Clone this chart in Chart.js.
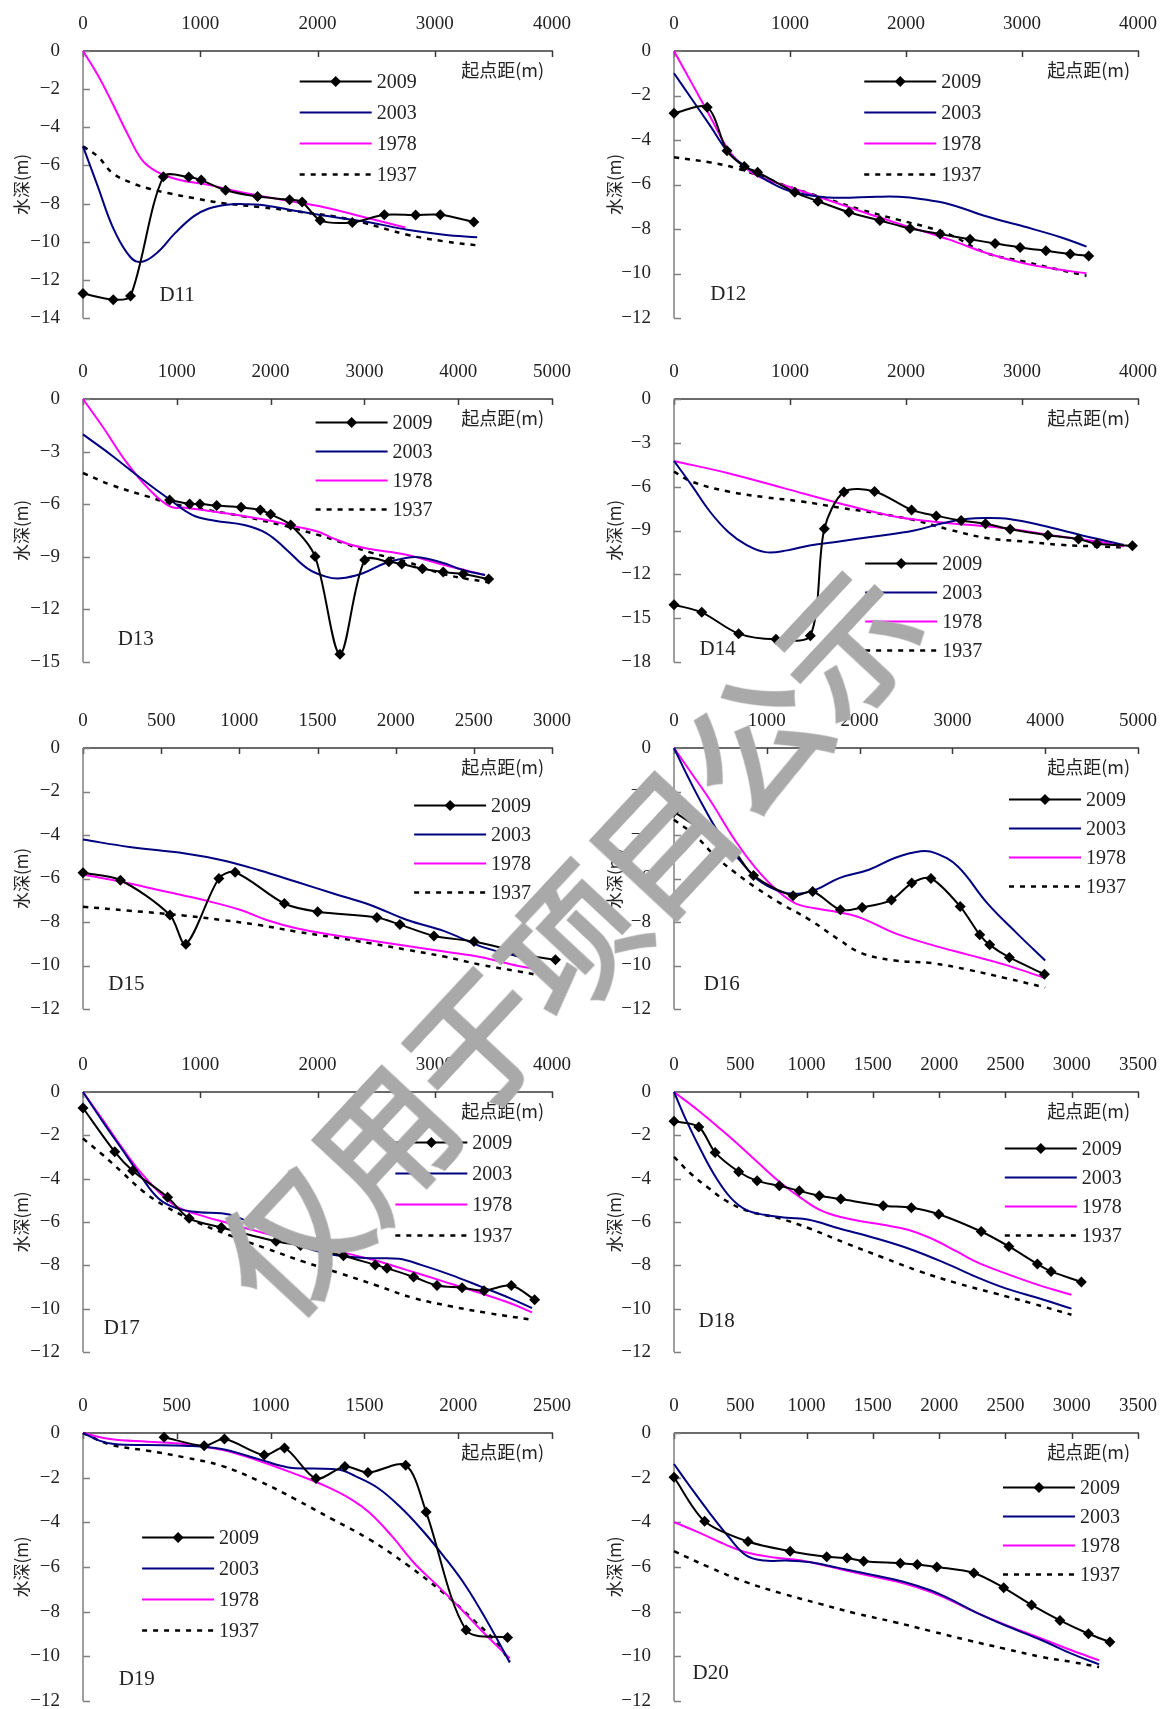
<!DOCTYPE html>
<html>
<head>
<meta charset="utf-8">
<script src="https://cdn.jsdelivr.net/npm/chart.js@4.4.0/dist/chart.umd.min.js"></script>
<style>
  body { margin: 0; background: #fff; width: 1160px; height: 1709px; overflow: hidden; position: relative; }
  canvas { position: absolute; }
  #wm {
    position: absolute; left: 565px; top: 938px; z-index: 10;
    transform: translate(-50%, -50%) rotate(-47deg);
    font-family: "Noto Sans CJK SC", sans-serif; font-weight: 400; font-size: 136px;
    color: #a9a9a9; -webkit-text-stroke: 4px #a9a9a9; white-space: nowrap; line-height: 1;
  }
</style>
</head>
<body>
<div id="wm">仅用于项目公示</div>
<script>
'use strict';

// series are [起点距 m, 水深 m]
const seriesNames = ['2009', '2003', '1978', '1937'];

const D11_2009 = [[0,-12.72],[258,-13.04],[405,-12.85],[685,-6.6],[902,-6.61],[1008,-6.77],[1216,-7.3],[1489,-7.63],[1762,-7.8],[1869,-7.92],[2023,-8.88],[2297,-8.99],[2570,-8.59],[2837,-8.6],[3047,-8.59],[3333,-8.97]];
const D11_2003 = [[0,-5.0],[126,-7.1],[251,-9.2],[377,-10.6],[478,-11.07],[628,-10.6],[785,-9.55],[943,-8.67],[1068,-8.27],[1225,-8.06],[1382,-8.03],[1508,-8.06],[1759,-8.32],[2011,-8.59],[2293,-8.85],[2451,-8.99],[2765,-9.37],[3079,-9.63],[3362,-9.77]];
const D11_1978 = [[0,0],[126,-1.26],[251,-2.74],[377,-4.31],[503,-5.71],[628,-6.32],[817,-6.75],[1068,-7.02],[1382,-7.45],[1697,-7.8],[2011,-8.13],[2325,-8.6],[2749,-9.25]];
const D11_1937 = [[0,-5.0],[126,-5.53],[251,-6.4],[408,-6.9],[566,-7.22],[723,-7.45],[943,-7.71],[1194,-7.98],[1508,-8.18],[1822,-8.41],[2136,-8.67],[2388,-9.0],[2765,-9.63],[3079,-9.98],[3362,-10.19]];

const D12_2009 = [[0,-2.8],[286,-2.53],[457,-4.48],[606,-5.19],[721,-5.45],[1041,-6.35],[1241,-6.75],[1508,-7.25],[1775,-7.62],[2035,-7.98],[2295,-8.23],[2552,-8.46],[2768,-8.65],[2984,-8.83],[3206,-8.98],[3416,-9.12],[3575,-9.21]];
const D12_2003 = [[0,-1.0],[159,-2.2],[317,-3.4],[476,-4.6],[635,-5.25],[794,-5.8],[984,-6.27],[1238,-6.54],[1429,-6.6],[1746,-6.55],[1937,-6.55],[2127,-6.65],[2381,-6.9],[2698,-7.44],[3016,-7.89],[3333,-8.37],[3556,-8.79]];
const D12_1978 = [[0,0],[159,-1.5],[317,-3.0],[476,-4.5],[603,-5.19],[730,-5.64],[984,-6.09],[1238,-6.54],[1492,-6.99],[1746,-7.44],[2063,-7.96],[2381,-8.49],[2698,-9.09],[3016,-9.54],[3302,-9.81],[3556,-9.99]];
const D12_1937 = [[0,-4.78],[317,-5.01],[540,-5.27],[794,-5.72],[984,-6.09],[1302,-6.62],[1619,-7.14],[1937,-7.59],[2190,-7.93],[2381,-8.26],[2698,-9.09],[3016,-9.46],[3302,-9.81],[3556,-10.1]];

const D13_2009 = [[923,-5.76],[1137,-5.99],[1247,-5.99],[1425,-6.08],[1685,-6.18],[1890,-6.33],[2000,-6.58],[2214,-7.19],[2474,-8.99],[2739,-14.56],[3003,-9.18],[3260,-9.28],[3398,-9.41],[3619,-9.68],[3840,-9.87],[4053,-9.98],[4325,-10.27]];
const D13_2003 = [[0,-2.02],[300,-3.19],[616,-4.52],[931,-5.76],[1168,-6.62],[1405,-6.94],[1720,-7.19],[1957,-7.66],[2155,-8.52],[2391,-9.66],[2589,-10.13],[2747,-10.23],[2983,-9.94],[3220,-9.37],[3457,-9.05],[3615,-9.05],[3852,-9.37],[4049,-9.75],[4286,-10.04]];
const D13_1978 = [[0,0],[221,-1.67],[458,-3.57],[695,-5.1],[931,-6.14],[1089,-6.2],[1326,-6.37],[1642,-6.62],[1957,-6.9],[2273,-7.28],[2510,-7.57],[2668,-7.95],[2865,-8.33],[3062,-8.56],[3457,-8.9],[3852,-9.47],[4286,-10.04]];
const D13_1937 = [[0,-4.22],[300,-4.9],[695,-5.57],[931,-5.95],[1326,-6.33],[1720,-6.71],[2115,-7.19],[2510,-7.76],[2786,-8.23],[3062,-8.75],[3457,-9.3],[3852,-10.0],[4325,-10.46]];

const D14_2009 = [[0,-14.08],[239,-14.6],[557,-16.06],[879,-16.45],[1175,-16.2],[1296,-8.88],[1465,-6.36],[1729,-6.33],[2048,-7.59],[2261,-8.0],[2475,-8.31],[2685,-8.54],[2898,-8.91],[3223,-9.32],[3487,-9.59],[3646,-9.91],[3952,-10.05]];
const D14_2003 = [[0,-4.24],[150,-5.88],[309,-7.7],[468,-9.1],[627,-10.0],[787,-10.48],[978,-10.36],[1169,-10.02],[1424,-9.75],[1742,-9.39],[2061,-9.02],[2315,-8.5],[2538,-8.2],[2697,-8.15],[2889,-8.22],[3175,-8.66],[3494,-9.29],[3876,-9.98]];
const D14_1978 = [[0,-4.24],[468,-5.08],[946,-6.1],[1424,-7.13],[1901,-8.04],[2220,-8.38],[2538,-8.61],[2857,-8.84],[3334,-9.41],[3653,-9.75],[3876,-10.09]];
const D14_1937 = [[0,-4.97],[150,-5.65],[468,-6.33],[787,-6.72],[1105,-7.02],[1424,-7.43],[1742,-7.81],[2061,-8.27],[2379,-8.95],[2697,-9.52],[3016,-9.75],[3334,-9.98],[3653,-10.09],[3876,-10.16]];

const D15_2009 = [[0,-5.74],[239,-6.08],[556,-7.68],[658,-9.02],[869,-6.0],[973,-5.71],[1288,-7.15],[1501,-7.53],[1880,-7.79],[2027,-8.12],[2245,-8.64],[2501,-8.9],[2768,-9.36],[2804,-9.48],[3022,-9.74]];
const D15_2003 = [[0,-4.21],[298,-4.55],[654,-4.85],[890,-5.16],[1127,-5.62],[1364,-6.15],[1601,-6.69],[1838,-7.22],[2074,-7.91],[2311,-8.42],[2548,-9.13],[2785,-9.59],[2927,-9.89]];
const D15_1978 = [[0,-5.82],[298,-6.23],[535,-6.61],[772,-6.99],[1009,-7.45],[1175,-7.91],[1364,-8.29],[1601,-8.6],[1838,-8.85],[2074,-9.1],[2311,-9.36],[2548,-9.62],[2785,-10.02],[2939,-10.2]];
const D15_1937 = [[0,-7.3],[298,-7.48],[654,-7.71],[890,-7.91],[1127,-8.14],[1364,-8.44],[1601,-8.7],[1838,-8.98],[2074,-9.28],[2311,-9.59],[2548,-9.97],[2785,-10.27],[2951,-10.5]];

const D16_2009 = [[0,-2.94],[538,-4.4],[645,-4.71],[857,-5.86],[1283,-6.79],[1494,-6.6],[1793,-7.44],[2028,-7.33],[2343,-6.99],[2562,-6.21],[2769,-6.0],[3084,-7.29],[3295,-8.59],[3402,-9.05],[3614,-9.63],[3992,-10.4]];
const D16_2003 = [[0,0],[147,-1.3],[307,-2.61],[506,-4.06],[705,-5.14],[904,-6.06],[1143,-6.6],[1343,-6.7],[1542,-6.49],[1781,-5.98],[2100,-5.6],[2378,-5.06],[2657,-4.75],[2817,-4.83],[3056,-5.44],[3375,-7.13],[3693,-8.51],[4000,-9.77]];
const D16_1978 = [[0,0],[187,-1.15],[386,-2.38],[665,-4.29],[865,-5.44],[1104,-6.52],[1303,-7.13],[1502,-7.36],[1781,-7.56],[2020,-7.82],[2378,-8.51],[2777,-9.05],[3175,-9.51],[3574,-9.97],[4000,-10.58]];
const D16_1937 = [[0,-3.3],[227,-4.02],[446,-4.98],[665,-5.75],[865,-6.37],[1143,-7.13],[1462,-7.9],[1781,-8.82],[2020,-9.43],[2378,-9.77],[2777,-9.89],[3175,-10.2],[3574,-10.58],[4000,-11.01]];

const D17_2009 = [[0,-0.74],[271,-2.76],[423,-3.63],[722,-4.86],[905,-5.83],[1180,-6.25],[1647,-6.89],[1855,-7.09],[2221,-7.56],[2492,-7.98],[2593,-8.13],[2820,-8.54],[3019,-8.93],[3233,-9.03],[3420,-9.17],[3653,-8.93],[3852,-9.59]];
const D17_2003 = [[0,0],[170,-1.38],[328,-2.61],[486,-3.83],[644,-4.91],[801,-5.37],[991,-5.55],[1180,-5.6],[1306,-5.75],[1495,-6.21],[1685,-6.67],[1874,-7.13],[2063,-7.44],[2252,-7.59],[2442,-7.67],[2694,-7.7],[2883,-7.98],[3136,-8.44],[3388,-8.97],[3640,-9.51],[3830,-9.97]];
const D17_1978 = [[0,0],[170,-1.3],[328,-2.53],[486,-3.68],[644,-4.6],[801,-5.29],[991,-5.67],[1243,-6.06],[1495,-6.44],[1811,-6.87],[2126,-7.29],[2442,-7.7],[2757,-8.21],[3073,-8.74],[3388,-9.28],[3640,-9.74],[3830,-10.17]];
const D17_1937 = [[0,-2.15],[170,-2.91],[328,-3.68],[517,-4.6],[707,-5.29],[959,-5.98],[1243,-6.6],[1558,-7.21],[1874,-7.82],[2189,-8.36],[2505,-8.93],[2820,-9.51],[3136,-9.89],[3451,-10.2],[3830,-10.51]];

const D18_2009 = [[0,-1.35],[187,-1.61],[310,-2.79],[488,-3.68],[627,-4.1],[795,-4.33],[945,-4.56],[1096,-4.79],[1258,-4.94],[1578,-5.25],[1790,-5.34],[1997,-5.64],[2317,-6.44],[2526,-7.13],[2741,-7.94],[2844,-8.28],[3073,-8.77]];
const D18_2003 = [[0,0],[98,-1.38],[209,-2.76],[321,-3.99],[432,-4.91],[544,-5.44],[683,-5.67],[851,-5.8],[1018,-5.9],[1241,-6.29],[1520,-6.75],[1799,-7.29],[2077,-7.98],[2301,-8.59],[2496,-9.05],[2747,-9.51],[2998,-10.0]];
const D18_1978 = [[0,0],[181,-0.84],[404,-1.99],[627,-3.22],[795,-4.14],[962,-4.91],[1129,-5.52],[1353,-5.9],[1576,-6.13],[1771,-6.37],[1966,-6.83],[2133,-7.36],[2301,-7.9],[2496,-8.36],[2747,-8.9],[2998,-9.36]];
const D18_1937 = [[0,-2.99],[125,-3.76],[265,-4.45],[404,-5.06],[572,-5.52],[795,-5.83],[1018,-6.29],[1297,-6.98],[1576,-7.64],[1854,-8.28],[2133,-8.82],[2412,-9.28],[2691,-9.74],[2998,-10.28]];

const D19_2009 = [[432,-0.19],[646,-0.57],[754,-0.27],[966,-0.99],[1074,-0.67],[1242,-2.04],[1396,-1.5],[1519,-1.77],[1720,-1.44],[1829,-3.54],[2042,-8.82],[2263,-9.16]];
const D19_2003 = [[0,0],[87,-0.34],[166,-0.49],[344,-0.54],[541,-0.57],[739,-0.72],[936,-1.17],[1094,-1.54],[1232,-1.59],[1370,-1.65],[1449,-1.92],[1568,-2.44],[1686,-3.27],[1805,-4.32],[1923,-5.52],[2042,-6.87],[2160,-8.52],[2275,-10.28]];
const D19_1978 = [[0,0],[146,-0.27],[344,-0.39],[541,-0.49],[739,-0.75],[936,-1.24],[1133,-1.84],[1291,-2.37],[1430,-2.97],[1528,-3.57],[1647,-4.62],[1765,-5.82],[1884,-6.79],[2002,-7.77],[2121,-8.82],[2275,-10.09]];
const D19_1937 = [[0,0],[146,-0.52],[344,-0.79],[541,-1.09],[739,-1.47],[936,-2.14],[1133,-2.97],[1331,-3.87],[1528,-4.77],[1726,-5.89],[1923,-7.17],[2081,-8.37],[2200,-9.34],[2275,-10.24]];

const D20_2009 = [[0,-1.98],[231,-3.95],[558,-4.86],[876,-5.29],[1152,-5.54],[1305,-5.6],[1431,-5.74],[1707,-5.83],[1835,-5.89],[1983,-6.0],[2262,-6.27],[2487,-6.93],[2697,-7.7],[2911,-8.39],[3126,-8.99],[3288,-9.36]];
const D20_2003 = [[0,-1.39],[125,-2.43],[265,-3.55],[404,-4.59],[544,-5.48],[683,-5.71],[851,-5.71],[1018,-5.78],[1241,-6.04],[1520,-6.38],[1743,-6.68],[1938,-7.05],[2077,-7.42],[2273,-8.02],[2496,-8.61],[2775,-9.28],[2998,-9.88],[3207,-10.36]];
const D20_1978 = [[0,-3.99],[181,-4.44],[404,-5.04],[544,-5.34],[739,-5.56],[962,-5.71],[1241,-6.08],[1520,-6.45],[1743,-6.75],[1938,-7.12],[2077,-7.47],[2273,-8.02],[2496,-8.58],[2775,-9.21],[2998,-9.73],[3207,-10.18]];
const D20_1937 = [[0,-5.29],[265,-6.01],[544,-6.68],[823,-7.2],[1101,-7.65],[1380,-8.09],[1659,-8.46],[1938,-8.87],[2217,-9.28],[2496,-9.66],[2775,-10.03],[2998,-10.25],[3207,-10.48]];

// axis ranges per section
const panels = [
  { name: 'D11', data: [D11_2009, D11_2003, D11_1978, D11_1937], xMax: 4000, xStep: 1000, yMin: -14, yStep: 2 },
  { name: 'D12', data: [D12_2009, D12_2003, D12_1978, D12_1937], xMax: 4000, xStep: 1000, yMin: -12, yStep: 2 },
  { name: 'D13', data: [D13_2009, D13_2003, D13_1978, D13_1937], xMax: 5000, xStep: 1000, yMin: -15, yStep: 3 },
  { name: 'D14', data: [D14_2009, D14_2003, D14_1978, D14_1937], xMax: 4000, xStep: 1000, yMin: -18, yStep: 3 },
  { name: 'D15', data: [D15_2009, D15_2003, D15_1978, D15_1937], xMax: 3000, xStep: 500, yMin: -12, yStep: 2 },
  { name: 'D16', data: [D16_2009, D16_2003, D16_1978, D16_1937], xMax: 5000, xStep: 1000, yMin: -12, yStep: 2 },
  { name: 'D17', data: [D17_2009, D17_2003, D17_1978, D17_1937], xMax: 4000, xStep: 1000, yMin: -12, yStep: 2 },
  { name: 'D18', data: [D18_2009, D18_2003, D18_1978, D18_1937], xMax: 3500, xStep: 500, yMin: -12, yStep: 2 },
  { name: 'D19', data: [D19_2009, D19_2003, D19_1978, D19_1937], xMax: 2500, xStep: 500, yMin: -12, yStep: 2 },
  { name: 'D20', data: [D20_2009, D20_2003, D20_1978, D20_1937], xMax: 3500, xStep: 500, yMin: -12, yStep: 2 },
];

// placement (fractions of the plot area)
const legendPos = [
  [0.462, 0.111, 31], [0.41, 0.111, 31], [0.496, 0.089, 29], [0.412, 0.624, 29], [0.706, 0.218, 29],
  [0.722, 0.195, 29], [0.666, 0.194, 31], [0.713, 0.215, 29], [0.126, 0.388, 31], [0.709, 0.202, 29],
];
const labelPos = [
  [0.163, 0.914], [0.078, 0.913], [0.074, 0.916], [0.055, 0.953], [0.054, 0.907],
  [0.064, 0.907], [0.044, 0.908], [0.053, 0.882], [0.076, 0.92], [0.04, 0.898],
];
const cols = [
  { left: 0, plotLeft: 83, plotRight: 552, titleX: 22 },
  { left: 580, plotLeft: 674, plotRight: 1138, titleX: 35 },
];
const rows = [[51, 318], [399, 662], [748, 1009], [1092, 1352], [1433, 1701]];
const TOP_PAD = 51;
const BOTTOM_PAD = 8;

const styles = [
  { color: '#000000', width: 2, dash: [], marker: true, tension: 0.3 },
  { color: '#000080', width: 2, dash: [], marker: false, tension: 0.4 },
  { color: '#ff00ff', width: 2, dash: [], marker: false, tension: 0.4 },
  { color: '#000000', width: 2.5, dash: [5, 6], marker: false, tension: 0.4 },
];

const NUM_FONT = '"Liberation Serif", "DejaVu Serif", serif';
const CJK_FONT = '"Noto Sans CJK SC", sans-serif';
const minus = (v) => String(v).replace('-', '\u2212');

const diamond = (ctx, x, y, r) => {
  ctx.beginPath();
  ctx.moveTo(x, y - r); ctx.lineTo(x + r, y); ctx.lineTo(x, y + r); ctx.lineTo(x - r, y);
  ctx.closePath();
  ctx.fill();
};

const panelDecor = {
  id: 'panelDecor',
  beforeDatasetsDraw(chart, args, opts) {
    const { ctx, chartArea: a, scales: { x, y } } = chart;
    ctx.save();
    ctx.lineWidth = 1.5;
    ctx.strokeStyle = '#3a3a3a';
    ctx.beginPath();
    ctx.moveTo(a.left, a.top); ctx.lineTo(a.right + 1, a.top);
    x.ticks.forEach(t => {
      const px = Math.round(x.getPixelForValue(t.value)) + 0.5;
      ctx.moveTo(px, a.top); ctx.lineTo(px, a.top + 6);
    });
    ctx.stroke();
    ctx.strokeStyle = '#808080';
    ctx.beginPath();
    ctx.moveTo(a.left, a.top); ctx.lineTo(a.left, a.bottom);
    y.ticks.forEach(t => {
      const py = Math.round(y.getPixelForValue(t.value)) + 0.5;
      ctx.moveTo(a.left, py); ctx.lineTo(a.left + 7, py);
    });
    ctx.stroke();
    ctx.restore();
  },
  afterDatasetsDraw(chart, args, opts) {
    const { ctx, chartArea: a } = chart;
    const w = a.right - a.left, h = a.bottom - a.top;
    ctx.save();
    ctx.fillStyle = '#222';
    // x title inside the plot, y title on the left
    ctx.font = `18px ${CJK_FONT}`;
    ctx.textAlign = 'right'; ctx.textBaseline = 'middle';
    ctx.fillText('起点距(m)', a.right - 8, a.top + 19);
    ctx.save();
    ctx.translate(opts.titleX, (a.top + a.bottom) / 2);
    ctx.rotate(-Math.PI / 2);
    ctx.textAlign = 'center';
    ctx.font = `17px ${CJK_FONT}`;
    ctx.fillText('水深(m)', 0, 0);
    ctx.restore();
    // section label
    ctx.font = `21px ${NUM_FONT}`;
    ctx.textAlign = 'left';
    ctx.fillText(opts.name, a.left + opts.label[0] * w, a.top + opts.label[1] * h);
    // legend
    const [fx, fy, gap] = opts.legend;
    const lx = a.left + fx * w, len = 72;
    ctx.font = `20px ${NUM_FONT}`;
    seriesNames.forEach((name, i) => {
      const st = styles[i];
      const ly = Math.round(a.top + fy * h + i * gap) + 0.5;
      ctx.strokeStyle = st.color;
      ctx.lineWidth = st.width;
      ctx.setLineDash(st.dash);
      ctx.beginPath(); ctx.moveTo(lx, ly); ctx.lineTo(lx + len, ly); ctx.stroke();
      ctx.setLineDash([]);
      if (st.marker) { ctx.fillStyle = st.color; diamond(ctx, lx + len / 2, ly, 5.5); }
      ctx.fillStyle = '#222';
      ctx.fillText(name, lx + len + 5, ly + 1);
    });
    ctx.restore();
  },
};

panels.forEach((p, idx) => {
  const col = cols[idx % 2];
  const [rTop, rBottom] = rows[Math.floor(idx / 2)];
  const leftPad = col.plotLeft - col.left;
  const rightPad = col.left + 580 - col.plotRight;
  const W = 580, H = (rBottom - rTop) + TOP_PAD + BOTTOM_PAD;
  const cv = document.createElement('canvas');
  cv.width = W; cv.height = H;
  cv.style.left = col.left + 'px';
  cv.style.top = (rTop - TOP_PAD) + 'px';
  cv.style.width = W + 'px';
  cv.style.height = H + 'px';
  document.body.appendChild(cv);

  new Chart(cv, {
    type: 'line',
    data: {
      datasets: p.data.map((pts, i) => ({
        label: seriesNames[i],
        data: pts.map(([x, y]) => ({ x, y })),
        borderColor: styles[i].color,
        backgroundColor: styles[i].color,
        borderWidth: styles[i].width,
        borderDash: styles[i].dash,
        pointStyle: 'rectRot',
        pointRadius: styles[i].marker ? 5.5 : 0,
        pointBackgroundColor: styles[i].color,
        pointBorderWidth: 0,
        tension: styles[i].tension,
        fill: false,
        clip: false,
      })),
    },
    options: {
      responsive: false,
      animation: false,
      devicePixelRatio: 1,
      layout: { padding: { left: 0, top: 0, right: rightPad, bottom: BOTTOM_PAD } },
      plugins: {
        legend: { display: false },
        tooltip: { enabled: false },
        panelDecor: { name: p.name, legend: legendPos[idx], label: labelPos[idx], titleX: col.titleX },
      },
      scales: {
        x: {
          type: 'linear', position: 'top', min: 0, max: p.xMax,
          grid: { display: false }, border: { display: false },
          ticks: { stepSize: p.xStep, padding: 8, color: '#222', maxRotation: 0, autoSkip: false,
                   font: { family: NUM_FONT, size: 19 }, callback: (v) => String(v) },
          afterFit: (s) => { s.height = TOP_PAD; s.paddingLeft = 0; s.paddingRight = 0; },
        },
        y: {
          type: 'linear', min: p.yMin, max: 0,
          grid: { display: false }, border: { display: false },
          ticks: { stepSize: p.yStep, padding: 15, color: '#222',
                   font: { family: NUM_FONT, size: 19 }, callback: minus },
          afterFit: (s) => { s.width = leftPad; s.paddingTop = 0; s.paddingBottom = 0; },
        },
      },
    },
    plugins: [panelDecor],
  });
});
</script>
</body>
</html>
